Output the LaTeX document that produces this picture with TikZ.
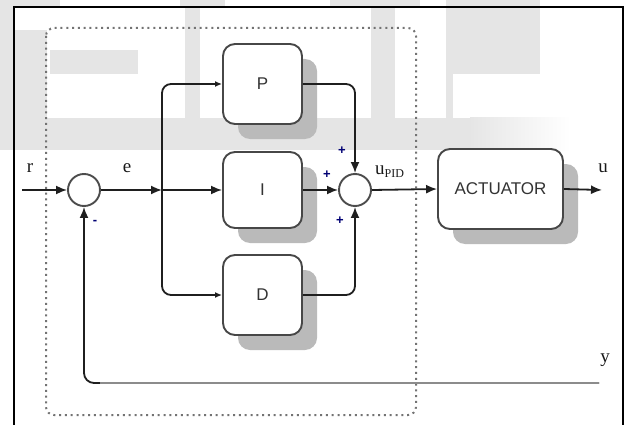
\documentclass[tikz,border=0pt]{standalone}
\usepackage{fontspec}
\setmainfont{Liberation Serif}
\newfontfamily\boxfont{Liberation Sans}
\usetikzlibrary{arrows.meta,shadows}

\begin{document}
\begin{tikzpicture}[x=1pt,y=-1pt,
  wmark/.style={fill=black!10, draw=none},
  blockbox/.style={draw=black!72, line width=1.9pt, rounded corners=12pt, fill=white,
    font=\boxfont\fontsize{17}{17}\selectfont, text=black!80,
    drop shadow={shadow xshift=15pt, shadow yshift=-15pt, fill=black!27, opacity=1}},
  sumnode/.style={circle, draw=black!70, line width=1.9pt, fill=white,
    minimum size=32pt, inner sep=0pt},
  sig/.style={line width=1.8pt, draw=black!88, -{Latex[length=11pt,width=9pt]}},
  sigsmall/.style={line width=1.8pt, draw=black!88, -{Latex[length=7pt,width=6pt]}},
  lbl/.style={font=\fontsize{19}{19}\selectfont, text=black!90, inner sep=0pt},
  sgn/.style={font=\boxfont\bfseries\fontsize{13}{13}\selectfont, text=black!55!blue, inner sep=0pt},
  pidbound/.style={draw=black!55, line width=2pt, dash pattern=on 2pt off 3.8pt, rounded corners=8pt},
]
\useasboundingbox (0,0) rectangle (626,425);

% faint background logo
\fill[wmark] (0,0) rectangle (13,150);
\fill[wmark] (0,0) rectangle (60,7);
\fill[wmark] (180,0) rectangle (225,7);
\fill[wmark] (330,0) rectangle (420,7);
\fill[wmark] (446,0) rectangle (540,7);
\fill[wmark] (15,30) rectangle (47,118);
\fill[wmark] (50,50) rectangle (138,74);
\fill[wmark] (185,7) rectangle (200,118);
\fill[wmark] (371,7) rectangle (395,118);
\fill[wmark] (446,7) rectangle (540,74);
\fill[wmark] (446,74) rectangle (453,118);
\fill[wmark] (0,118) rectangle (470,150);
\shade[left color=black!10, right color=white] (470,118) rectangle (570,150);

% outer frame
\draw[line width=2pt, black] (14,430) -- (14,7) -- (623,7) -- (623,430);

% controller boundary
\draw[pidbound] (46,28) rectangle (416,415);

% blocks
\node[blockbox, minimum width=79pt, minimum height=80pt] (P) at (262.5,84) {P};
\node[blockbox, minimum width=79pt, minimum height=76pt] (I) at (262.5,190) {I};
\node[blockbox, minimum width=79pt, minimum height=80pt] (D) at (262.5,295) {D};
\node[blockbox, minimum width=125pt, minimum height=80pt] (A) at (500.5,189) {ACTUATOR};

% summing junctions
\node[sumnode] (s1) at (84,190) {};
\node[sumnode] (s2) at (355,190) {};

% free ends and branch points
\coordinate (rin) at (22,190);
\coordinate (jn) at (162,190);
\coordinate (uout) at (602,190);
\coordinate (yend) at (599,383);
\coordinate (fbk) at (100,383);

% forward path
\draw[sig] (rin) -- (s1.west);
\draw[sig] (s1.east) -- (jn);
\draw[sig] (jn) -- (I.west);
\draw[sigsmall, rounded corners=9pt] (jn) |- (P.west);
\draw[sigsmall, rounded corners=9pt] (jn) |- (D.west);
\draw[sig, rounded corners=9pt] (P.east) -| (s2.north);
\draw[sig] (I.east) -- (s2.west);
\draw[sig, rounded corners=9pt] (D.east) -| (s2.south);
\draw[sig] (s2.east) -- (A.west);
\draw[sig] (A.east) -- (uout);

% feedback path
\draw[sig, rounded corners=10pt] (yend) -| (s1.south);
\draw[line width=2.8pt, black!45] (yend) -- (fbk);

% signal labels
\node[lbl] (lr) at (30,168) {r};
\node[lbl] (le) at (127,168) {e};
\node[lbl] (lu) at (603,168) {u};
\node[lbl] (ly) at (605,360) {y};
\node[lbl, anchor=west] (lpid) at (375,172) {u\raisebox{-3pt}{\fontsize{12}{12}\selectfont PID}};

% signs
\node[sgn] (pt) at (342,151) {+};
\node[sgn] (pl) at (327,175) {+};
\node[sgn] (pb) at (340,221) {+};
\node[sgn] (mn) at (95,222) {-};
\end{tikzpicture}
\end{document}
